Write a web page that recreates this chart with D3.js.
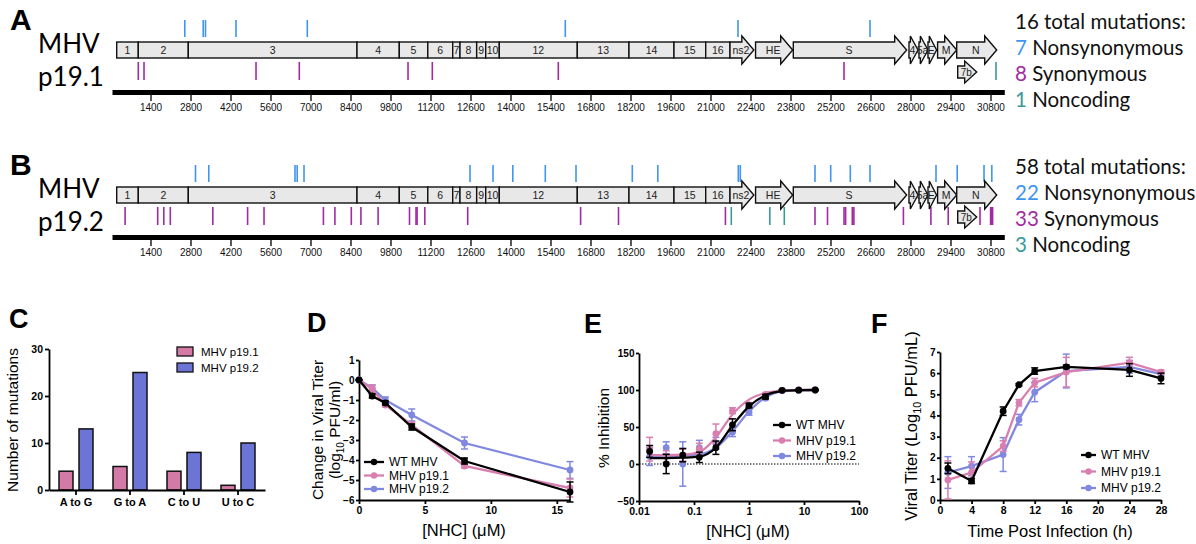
<!DOCTYPE html>
<html>
<head>
<meta charset="utf-8">
<script src="https://cdn.jsdelivr.net/npm/d3@7"></script>
<style>
  body { margin: 0; background: #fff; }
  text { font-family: "Liberation Sans", Arial, sans-serif; }
</style>
</head>
<body>
<script>
// ---- genome map data (nt positions) ----
var nspGenes = [
  { name: "1", start: 217, end: 973 },
  { name: "2", start: 973, end: 2723 },
  { name: "3", start: 2723, end: 8628 },
  { name: "4", start: 8628, end: 10108 },
  { name: "5", start: 10108, end: 11105 },
  { name: "6", start: 11105, end: 11977 },
  { name: "7", start: 11977, end: 12232 },
  { name: "8", start: 12232, end: 12816 },
  { name: "9", start: 12816, end: 13132 },
  { name: "10", start: 13132, end: 13608 },
  { name: "12", start: 13608, end: 16338 },
  { name: "13", start: 16338, end: 18147 },
  { name: "14", start: 18147, end: 19722 },
  { name: "15", start: 19722, end: 20832 },
  { name: "16", start: 20832, end: 21682 }
];
var orfGenes = [
  { name: "ns2", start: 21682, end: 22517 },
  { name: "HE", start: 22577, end: 23877 },
  { name: "S", start: 23898, end: 27866 },
  { name: "4", start: 27947, end: 28262 },
  { name: "5a", start: 28297, end: 28612 },
  { name: "E", start: 28612, end: 28913 },
  { name: "M", start: 28948, end: 29617 },
  { name: "N", start: 29617, end: 31017 }
];
var innerGenes = [{ name: "7b", start: 29652, end: 30317 }];
var genomeLength = 31300;
var genomeTicks = [1400, 2800, 4200, 5600, 7000, 8400, 9800, 11200, 12600, 14000, 15400,
  16800, 18200, 19600, 21000, 22400, 23800, 25200, 26600, 28000, 29400, 30800];

var p191Nonsyn = [2600, 3245, 3325, 4392, 6888, 15918, 21962, 26583];
var p191Syn = [973, 1173, 5093, 6608, 10413, 11263, 15673, 25673];
var p191Noncoding = [30993];
var p191Totals = [16, 7, 8, 1];   // total, nonsyn, syn, noncoding (as printed)

var p192Nonsyn = [2975, 3440, 6458, 6535, 6773, 12583, 13388, 14081, 15218, 16293, 18263,
  19156, 21973, 22043, 24658, 25207, 25893, 26583, 28893, 29635, 30573, 30846];
var p192Syn = [511, 1652, 1866, 2093, 3581, 4799, 5373, 7452, 7854, 8428, 8764, 9366, 10465,
  10693, 10731, 11001, 12502, 16454, 17780, 21522, 24658, 25095, 25673, 25729, 25963, 26019,
  27752, 28714, 29320, 30433, 30804, 30839, 30874];
var p192Noncoding = [21728, 23076, 23583];
var p192Totals = [58, 22, 33, 3];

// ---- panel C ----
var mutTypes = ["A to G", "G to A", "C to U", "U to C"];
var p191Counts = [4, 5, 4, 1];
var p192Counts = [13, 25, 8, 10];

// ---- panel D ----
var doseD = [0, 1, 2, 4, 8, 16];
var wtD = [0, -0.8, -1.15, -2.35, -4.05, -5.6];
var wtDErr = [0, 0.1, 0.1, 0.15, 0.15, 0.5];
var p191D = [0, -0.45, -1.25, -2.25, -4.3, -5.4];
var p191DErr = [0, 0.2, 0.1, 0.15, 0.1, 0.45];
var p192D = [0, -0.4, -1.0, -1.75, -3.15, -4.5];
var p192DErr = [0, 0.15, 0.15, 0.3, 0.3, 0.42];

// ---- panel E ----
var doseE = [0.015625, 0.03125, 0.0625, 0.125, 0.25, 0.5, 1, 2, 4, 8, 16];
var wtE = [17, 0, 12, 9, 22, 53, 79, 91, 99.5, 99.8, 100];
var wtEErr = [8, 13, 9, 7, 9, 8, 3, 3, 1, 1, 0.5];
var wtEFit = [8, 8, 8.5, 10, 22, 52, 78, 93, 98.5, 99.7, 100];
var p191E = [20, 10, 12, 20, 41, 72, 80, 94, 99.5, 100, 100];
var p191EErr = [16, 8, 8, 8, 13, 4, 3, 2, 1, 0.5, 0.5];
var p191EFit = [12, 12, 12.5, 16, 36, 67, 87, 96, 99, 100, 100];
var p192E = [10, 22, 0, 22, 28, 43, 70, 89, 99, 100, 100];
var p192EErr = [12, 8, 30, 10, 8, 6, 4, 2, 1, 0.5, 0.5];
var p192EFit = [11, 11, 11.5, 13, 22, 44, 71, 90, 98, 99.6, 100];

// ---- panel F ----
var timeF = [1, 4, 8, 10, 12, 16, 24, 28];
var wtF = [1.5, 0.9, 4.2, 5.45, 6.1, 6.3, 6.15, 5.75];
var wtFErr = [0.25, 0.12, 0.2, 0.05, 0.15, 0.08, 0.3, 0.25];
var p191F = [0.95, 1.3, 2.55, 4.6, 5.55, 6.05, 6.5, 6.05];
var p191FErr = [0.9, 0.5, 0.25, 0.15, 0.2, 0.7, 0.25, 0.1];
var p192F = [1.3, 1.6, 2.15, 3.8, 5.1, 6.1, 6.3, 5.95];
var p192FErr = [0.75, 0.45, 0.8, 0.25, 0.45, 0.8, 0.3, 0.1];

var seriesNames = ["WT MHV", "MHV p19.1", "MHV p19.2"];

// colours
var cNonsyn = "#3f95f0", cSyn = "#a22aa0", cNonc = "#3a9a9a";
var cWT = "#000", cP191 = "#d97fb0", cP192 = "#8088e0";
var cBar191 = "#d47aa6", cBar192 = "#6c74d6";

var svg = d3.select("body").append("svg")
  .attr("width", 1196).attr("height", 544);
svg.append("rect").attr("width", 1196).attr("height", 544).attr("fill", "#fff");

var gx = d3.scaleLinear().domain([0, genomeLength]).range([110.5, 110.5 + genomeLength / 35]);
var bigFont = "Lato, 'Open Sans', sans-serif";

function arrowPath(x0, x1, top, bot, ext) {
  var head = Math.min(12, (x1 - x0) * 0.85), xb = x1 - head, mid = (top + bot) / 2;
  return "M" + x0 + "," + top + "L" + xb + "," + top + "L" + xb + "," + (top - ext) +
    "L" + x1 + "," + mid + "L" + xb + "," + (bot + ext) + "L" + xb + "," + bot +
    "L" + x0 + "," + bot + "Z";
}

function drawMap(dy, letter, strain, nonsyn, syn, nonc, totals) {
  var g = svg.append("g").attr("transform", "translate(0," + dy + ")");

  // mutation ticks
  g.selectAll("line.ns").data(nonsyn).enter().append("line")
    .attr("x1", function (d) { return gx(d); }).attr("x2", function (d) { return gx(d); })
    .attr("y1", 20).attr("y2", 37).attr("stroke", cNonsyn).attr("stroke-width", 1.6);
  g.selectAll("line.sy").data(syn).enter().append("line")
    .attr("x1", function (d) { return gx(d); }).attr("x2", function (d) { return gx(d); })
    .attr("y1", 62).attr("y2", 80).attr("stroke", cSyn).attr("stroke-width", 1.6);
  g.selectAll("line.nc").data(nonc).enter().append("line")
    .attr("x1", function (d) { return gx(d); }).attr("x2", function (d) { return gx(d); })
    .attr("y1", 62).attr("y2", 80).attr("stroke", cNonc).attr("stroke-width", 1.6);

  // nsp boxes
  g.selectAll("rect.nsp").data(nspGenes).enter().append("rect")
    .attr("x", function (d) { return gx(d.start); })
    .attr("width", function (d) { return gx(d.end) - gx(d.start); })
    .attr("y", 42).attr("height", 16)
    .attr("fill", "#e8e8e8").attr("stroke", "#111").attr("stroke-width", 1.4);
  g.selectAll("text.nsp").data(nspGenes).enter().append("text")
    .attr("x", function (d) { return (gx(d.start) + gx(d.end)) / 2; })
    .attr("y", 54).attr("text-anchor", "middle").attr("font-size", 10.5).attr("fill", "#222")
    .text(function (d) { return d.name; });

  // structural / accessory ORFs
  g.selectAll("path.orf").data(orfGenes).enter().append("path")
    .attr("d", function (d) { return arrowPath(gx(d.start), gx(d.end), 42, 58, 6); })
    .attr("fill", "#e8e8e8").attr("stroke", "#111").attr("stroke-width", 1.4);
  g.selectAll("text.orf").data(orfGenes).enter().append("text")
    .attr("x", function (d) { return (gx(d.start) + gx(d.end)) / 2 - 1; })
    .attr("y", 54).attr("text-anchor", "middle").attr("font-size", 10.5).attr("fill", "#222")
    .text(function (d) { return d.name; });
  g.selectAll("path.inner").data(innerGenes).enter().append("path")
    .attr("d", function (d) { return arrowPath(gx(d.start), gx(d.end), 66, 78, 5); })
    .attr("fill", "#e8e8e8").attr("stroke", "#111").attr("stroke-width", 1.4);
  g.selectAll("text.inner").data(innerGenes).enter().append("text")
    .attr("x", function (d) { return (gx(d.start) + gx(d.end)) / 2 - 1; })
    .attr("y", 76).attr("text-anchor", "middle").attr("font-size", 10).attr("fill", "#222")
    .text(function (d) { return d.name; });

  // genome axis
  g.append("rect").attr("x", gx(0) + 2).attr("width", gx(genomeLength) - gx(0) - 2)
    .attr("y", 90).attr("height", 5).attr("fill", "#000");
  var ax = g.append("g").attr("transform", "translate(0,95)")
    .call(d3.axisBottom(gx).tickValues(genomeTicks).tickSize(6).tickPadding(3).tickFormat(d3.format("d")));
  ax.select(".domain").remove();
  ax.selectAll(".tick line").attr("stroke-width", 1.3);
  ax.selectAll(".tick text").attr("font-size", 10).attr("font-family", "'Liberation Sans', Arial, sans-serif").attr("fill", "#111");

  // labels
  g.append("text").attr("x", 10).attr("y", 30).attr("font-size", 30).attr("font-weight", "bold").text(letter);
  g.append("text").attr("x", 38).attr("y", 53).attr("font-size", 26).style("font-family", bigFont).text("MHV");
  g.append("text").attr("x", 38).attr("y", 86).attr("font-size", 26).style("font-family", bigFont).text(strain);

  var legend = [
    { n: null, label: totals[0] + " total mutations:" },
    { n: totals[1], c: cNonsyn, label: " Nonsynonymous" },
    { n: totals[2], c: cSyn, label: " Synonymous" },
    { n: totals[3], c: cNonc, label: " Noncoding" }
  ];
  legend.forEach(function (d, i) {
    var t = g.append("text").attr("x", 1015).attr("y", 29 + i * 26)
      .attr("font-size", 20.5).style("font-family", bigFont);
    if (d.n !== null) t.append("tspan").attr("fill", d.c).text(d.n);
    t.append("tspan").attr("fill", "#111").text(d.label);
  });
}

drawMap(0, "A", "p19.1", p191Nonsyn, p191Syn, p191Noncoding, p191Totals);
drawMap(145, "B", "p19.2", p192Nonsyn, p192Syn, p192Noncoding, p192Totals);

// ---- bottom panels helpers ----
function styleAxis(a) {
  a.attr("font-family", "'Liberation Sans', Arial, sans-serif");
  a.select(".domain").attr("stroke-width", 1.8).attr("stroke", "#000");
  a.selectAll(".tick line").attr("stroke-width", 1.8).attr("stroke", "#000");
  a.selectAll(".tick text").attr("font-weight", "bold").attr("font-size", 10.5).attr("fill", "#000");
}
function panelLetter(x, y, t) {
  svg.append("text").attr("x", x).attr("y", y).attr("font-size", 27).attr("font-weight", "bold").text(t);
}
function yTitle(x, y, size, parts) {
  var t = svg.append("text").attr("transform", "translate(" + x + "," + y + ") rotate(-90)")
    .attr("text-anchor", "middle").attr("font-size", size);
  parts.forEach(function (p) {
    var s = t.append("tspan").text(p.t);
    if (p.sub) s.attr("font-size", size * 0.65).attr("dy", 4);
    if (p.after) s.attr("dy", -4);
  });
  return t;
}
var fmtInt = d3.format("d");

// ---- panel C ----
var cx = d3.scaleBand().domain(mutTypes).range([49, 265]);
var cx1 = d3.scaleBand().domain([0, 1]).range([0, cx.bandwidth()]).paddingInner(0.3).paddingOuter(0.5);
var cy = d3.scaleLinear().domain([0, 30]).range([490, 349]);
var gC = svg.append("g");
[p191Counts, p192Counts].forEach(function (vals, k) {
  gC.selectAll("rect.s" + k).data(vals).enter().append("rect")
    .attr("x", function (d, i) { return cx(mutTypes[i]) + cx1(k); })
    .attr("width", cx1.bandwidth())
    .attr("y", function (d) { return cy(d); })
    .attr("height", function (d) { return cy(0) - cy(d); })
    .attr("fill", k === 0 ? cBar191 : cBar192).attr("stroke", "#111").attr("stroke-width", 1.5);
});
styleAxis(gC.append("g").attr("transform", "translate(49,0)")
  .call(d3.axisLeft(cy).tickValues([0, 10, 20, 30]).tickFormat(fmtInt).tickSize(4).tickSizeOuter(0).tickPadding(2)));
var axC = gC.append("g").attr("transform", "translate(0,490)")
  .call(d3.axisBottom(cx).tickSize(5).tickSizeOuter(0).tickPadding(3));
styleAxis(axC);
axC.selectAll(".tick text").attr("font-size", 11);
yTitle(18, 420, 15.5, [{ t: "Number of mutations" }]);
panelLetter(9, 328, "C");
["MHV p19.1", "MHV p19.2"].forEach(function (n, i) {
  gC.append("rect").attr("x", 177).attr("y", 347 + i * 16).attr("width", 16).attr("height", 9)
    .attr("fill", i === 0 ? cBar191 : cBar192).attr("stroke", "#111").attr("stroke-width", 1.3);
  gC.append("text").attr("x", 201).attr("y", 356 + i * 16).attr("font-size", 11.5).text(n);
});

// ---- line chart helper ----
function lineChart(opt) {
  var g = svg.append("g");
  var x = opt.x, y = opt.y;
  if (opt.zeroLine) {
    g.append("line").attr("x1", x.range()[0]).attr("x2", x.range()[1])
      .attr("y1", y(0)).attr("y2", y(0)).attr("stroke", "#000").attr("stroke-width", 1)
      .attr("stroke-dasharray", "1.5,1.5");
  }
  var ax = g.append("g").attr("transform", "translate(0," + y.range()[0] + ")").call(opt.xAxis);
  styleAxis(ax);
  var ay = g.append("g").attr("transform", "translate(" + x.range()[0] + ",0)").call(opt.yAxis);
  styleAxis(ay);
  ay.selectAll(".tick text").attr("font-size", 10);

  opt.series.forEach(function (s) {
    var pts = opt.xs.map(function (xv, i) { return { x: xv, y: s.vals[i], e: s.err[i] }; });
    var fitPts = s.fit ? opt.xs.map(function (xv, i) { return { x: xv, y: s.fit[i] }; }) : pts;
    var line = d3.line().x(function (d) { return x(d.x); }).y(function (d) { return y(d.y); });
    if (s.fit) line.curve(d3.curveMonotoneX);
    g.append("path").datum(fitPts).attr("d", line).attr("fill", "none")
      .attr("stroke", s.c).attr("stroke-width", 2.3);
    var eb = g.selectAll(null).data(pts).enter().append("g");
    eb.append("line").attr("x1", function (d) { return x(d.x); }).attr("x2", function (d) { return x(d.x); })
      .attr("y1", function (d) { return y(d.y - d.e); }).attr("y2", function (d) { return y(d.y + d.e); })
      .attr("stroke", s.c).attr("stroke-width", 1.5);
    [1, -1].forEach(function (sg) {
      eb.append("line").attr("x1", function (d) { return x(d.x) - 3.5; }).attr("x2", function (d) { return x(d.x) + 3.5; })
        .attr("y1", function (d) { return y(d.y + sg * d.e); }).attr("y2", function (d) { return y(d.y + sg * d.e); })
        .attr("stroke", s.c).attr("stroke-width", 1.5);
    });
    eb.append("circle").attr("cx", function (d) { return x(d.x); }).attr("cy", function (d) { return y(d.y); })
      .attr("r", 3.4).attr("fill", s.c);
  });

  // legend
  opt.legend.items.forEach(function (s, i) {
    var ly = opt.legend.y + i * opt.legend.step;
    g.append("line").attr("x1", opt.legend.x).attr("x2", opt.legend.x + opt.legend.w)
      .attr("y1", ly).attr("y2", ly).attr("stroke", s.c).attr("stroke-width", 2.3);
    g.append("circle").attr("cx", opt.legend.x + opt.legend.w / 2).attr("cy", ly).attr("r", 3.2).attr("fill", s.c);
    g.append("text").attr("x", opt.legend.x + opt.legend.w + 5).attr("y", ly + 4.2)
      .attr("font-size", 12).text(s.name);
  });
  return g;
}

// ---- panel D ----
var dx = d3.scaleLinear().domain([0, 16]).range([359, 570]);
var dyS = d3.scaleLinear().domain([-6, 1]).range([500, 360]);
var serD = [
  { c: cP192, vals: p192D, err: p192DErr },
  { c: cP191, vals: p191D, err: p191DErr },
  { c: cWT, vals: wtD, err: wtDErr }
];
lineChart({
  x: dx, y: dyS, xs: doseD, series: serD,
  xAxis: d3.axisBottom(dx).tickValues([0, 5, 10, 15]).tickFormat(fmtInt).tickSize(4).tickSizeOuter(0),
  yAxis: d3.axisLeft(dyS).tickValues([-6, -5, -4, -3, -2, -1, 0, 1]).tickFormat(fmtInt).tickSize(3).tickPadding(1.5).tickSizeOuter(0),
  legend: { x: 364, y: 462, step: 13.5, w: 20, items: [
    { c: cWT, name: seriesNames[0] }, { c: cP191, name: seriesNames[1] }, { c: cP192, name: seriesNames[2] }] }
});
svg.append("text").attr("x", 464).attr("y", 536).attr("text-anchor", "middle").attr("font-size", 16.5).text("[NHC] (\u03bcM)");
yTitle(323, 430, 15.5, [{ t: "Change in Viral Titer" }]);
yTitle(340, 430, 15.5, [{ t: "(log" }, { t: "10", sub: true }, { t: " PFU/ml)", after: true }]);
panelLetter(307, 332, "D");

// ---- panel E ----
var ex = d3.scaleLog().domain([0.01, 100]).range([639, 859]);
var ey = d3.scaleLinear().domain([-50, 150]).range([501, 353]);
var serE = [
  { c: cP192, vals: p192E, err: p192EErr, fit: p192EFit },
  { c: cP191, vals: p191E, err: p191EErr, fit: p191EFit },
  { c: cWT, vals: wtE, err: wtEErr, fit: wtEFit }
];
lineChart({
  x: ex, y: ey, xs: doseE, series: serE, zeroLine: true,
  xAxis: d3.axisBottom(ex).tickValues([0.01, 0.1, 1, 10, 100]).tickFormat(d3.format("~g")).tickSize(4).tickSizeOuter(0),
  yAxis: d3.axisLeft(ey).tickValues([-50, 0, 50, 100, 150]).tickFormat(fmtInt).tickSize(3).tickPadding(1.5).tickSizeOuter(0),
  legend: { x: 773, y: 425, step: 15.5, w: 18, items: [
    { c: cWT, name: seriesNames[0] }, { c: cP191, name: seriesNames[1] }, { c: cP192, name: seriesNames[2] }] }
});
svg.append("text").attr("x", 748).attr("y", 537).attr("text-anchor", "middle").attr("font-size", 16.5).text("[NHC] (\u03bcM)");
yTitle(609, 428, 15.5, [{ t: "% Inhibition" }]);
panelLetter(584, 333, "E");

// ---- panel F ----
var fx = d3.scaleLinear().domain([0, 28]).range([940, 1161]);
var fy = d3.scaleLinear().domain([0, 7]).range([500, 352]);
var serF = [
  { c: cP192, vals: p192F, err: p192FErr },
  { c: cP191, vals: p191F, err: p191FErr },
  { c: cWT, vals: wtF, err: wtFErr }
];
lineChart({
  x: fx, y: fy, xs: timeF, series: serF,
  xAxis: d3.axisBottom(fx).tickValues([0, 4, 8, 12, 16, 20, 24, 28]).tickFormat(fmtInt).tickSize(4).tickSizeOuter(0),
  yAxis: d3.axisLeft(fy).tickValues([0, 1, 2, 3, 4, 5, 6, 7]).tickFormat(fmtInt).tickSize(3).tickPadding(1.5).tickSizeOuter(0),
  legend: { x: 1081, y: 455, step: 16.5, w: 15, items: [
    { c: cWT, name: seriesNames[0] }, { c: cP191, name: seriesNames[1] }, { c: cP192, name: seriesNames[2] }] }
});
svg.append("text").attr("x", 1050).attr("y", 537).attr("text-anchor", "middle").attr("font-size", 16.5).text("Time Post Infection (h)");
yTitle(917, 426, 16.5, [{ t: "Viral Titer (Log" }, { t: "10", sub: true }, { t: " PFU/mL)", after: true }]);
panelLetter(871, 333, "F");
</script>
</body>
</html>
